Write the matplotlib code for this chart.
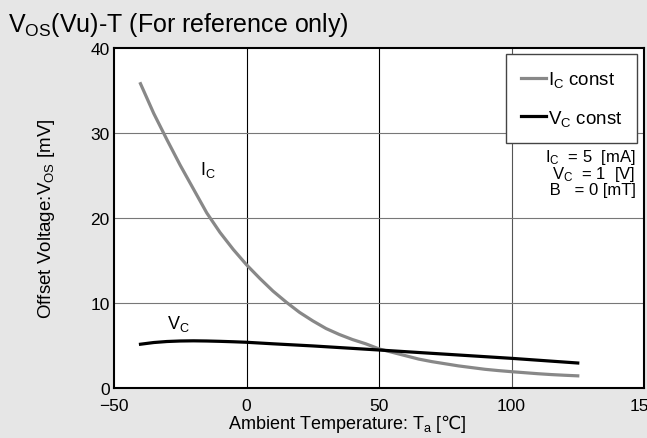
import matplotlib
matplotlib.use('Agg')
import matplotlib.pyplot as plt
from matplotlib.ticker import MultipleLocator

plt.rcParams['font.family'] = ['Liberation Sans', 'DejaVu Sans']
plt.rcParams['mathtext.fontset'] = 'custom'
plt.rcParams['mathtext.rm'] = 'Liberation Sans'
plt.rcParams['mathtext.sf'] = 'DejaVu Sans'

# I_C const curve (read every 5 degC)
temp_ic = [-40, -35, -30, -25, -20, -15, -10, -5, 0, 5, 10, 15, 20, 25, 30, 35, 40,
           45, 50, 55, 60, 65, 70, 75, 80, 85, 90, 95, 100, 105, 110, 115, 120, 125]
vos_ic = [35.8, 32.3, 29.2, 26.2, 23.4, 20.6, 18.3, 16.3, 14.5, 12.9, 11.4, 10.1, 8.9,
          7.9, 7.0, 6.3, 5.7, 5.2, 4.6, 4.2, 3.8, 3.4, 3.1, 2.85, 2.6, 2.4, 2.2, 2.05,
          1.92, 1.8, 1.68, 1.58, 1.5, 1.43]

# V_C const curve
temp_vc = [-40, -35, -30, -25, -20, -15, -10, -5, 0, 10, 25, 50, 75, 100, 125]
vos_vc = [5.15, 5.35, 5.47, 5.53, 5.55, 5.53, 5.49, 5.44, 5.38, 5.2, 4.95, 4.47, 3.98, 3.49, 2.94]

x_ticks = [-50, 0, 50, 100, 150]
x_labels = ['\u221250', '0', '50', '100', '150']

bg = '#e6e6e6'
fig = plt.figure(figsize=(6.47, 4.39), dpi=100, facecolor=bg)
ax = fig.add_axes([114 / 647, 50 / 439, 530 / 647, 340 / 439])

ax.plot(temp_ic, vos_ic, color='#888888', lw=2.3, label='$\\mathregular{I_C}$ const')
ax.plot(temp_vc, vos_vc, color='black', lw=2.3, label='$\\mathregular{V_C}$ const')

ax.set_xlim(-50, 150)
ax.set_ylim(0, 40)
ax.set_xticks(x_ticks)
ax.set_xticklabels(x_labels)
ax.yaxis.set_major_locator(MultipleLocator(10))
ax.tick_params(length=0, labelsize=12.5)
ax.tick_params(axis='x', pad=7)
ax.tick_params(axis='y', pad=3)
for v in [0, 50]:
    ax.axvline(v, color='black', lw=0.8, zorder=0)
ax.axvline(100, color='#555555', lw=0.8, zorder=0)
for v in [10, 20, 30]:
    ax.axhline(v, color='#777777', lw=0.8, zorder=0)
for s in ax.spines.values():
    s.set_linewidth(1.5)

# degree-Celsius sign comes from DejaVu via \mathsf
ax.set_xlabel('Ambient Temperature: $\\mathregular{T_a}$ [$\\mathsf{\u2103}$]', fontsize=13)
ax.xaxis.set_label_coords(0.44, -0.07)
ax.set_ylabel('Offset Voltage:$\\mathregular{V_{OS}}$ [mV]', fontsize=13.5)
ax.yaxis.set_label_coords(-0.107, 0.5)

ax.text(-17.5, 25.2, '$\\mathregular{I_C}$', fontsize=13)
ax.text(-30, 7.0, '$\\mathregular{V_C}$', fontsize=13)
ax.text(146.8, 25.4, '$\\mathregular{I_C}$  = 5  [mA]\n$\\mathregular{V_C}$  = 1  [V]\n B   = 0 [mT]',
        fontsize=12, ha='right', va='center', linespacing=0.88)

leg = ax.legend(loc='upper right', fontsize=13.5, handlelength=1.3, handletextpad=0.1,
                labelspacing=1.0, borderpad=0.8, borderaxespad=0, fancybox=False,
                framealpha=1, edgecolor='#444444', bbox_to_anchor=(0.987, 0.982))
leg.get_frame().set_linewidth(1.0)

fig.text(0.012, 1 - 32 / 439, '$\\mathregular{V_{OS}}$(Vu)-T (For reference only)',
         fontsize=18, va='baseline')

plt.savefig('out.png', dpi=100, facecolor=bg)
plt.close()
